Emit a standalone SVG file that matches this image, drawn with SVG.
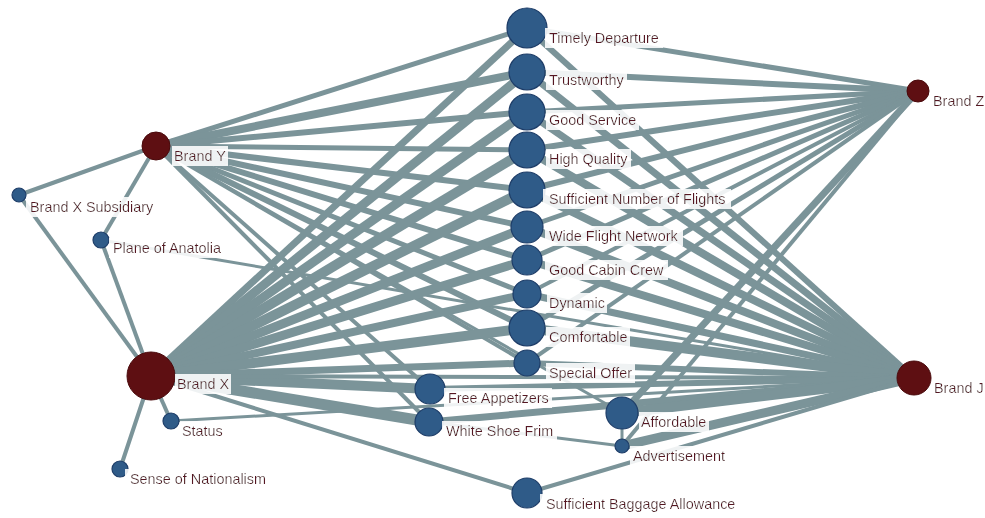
<svg xmlns="http://www.w3.org/2000/svg" width="985" height="518" viewBox="0 0 985 518">
  <style>
    .e { stroke: #7b9499; stroke-linecap: butt; fill: none; }
    .attr { fill: #2f5b88; stroke: #1e3d68; stroke-width: 1.2; }
    .brand { fill: #5e0f12; stroke: #4a0a0c; stroke-width: 1; }
    .lbl { font-family: "Liberation Sans", Arial, sans-serif; font-size: 14.4px; fill: #561820; filter: url(#lblbg); }
  </style>
  <defs>
    <!-- soft white box behind each label -->
    <filter id="lblbg" x="-0.03" y="-0.1" width="1.06" height="1.2">
      <feFlood flood-color="#ffffff" flood-opacity="0.88" result="bg"/>
      <feMerge>
        <feMergeNode in="bg"/>
        <feMergeNode in="SourceGraphic"/>
      </feMerge>
    </filter>
  </defs>
  <rect width="985" height="518" fill="#ffffff"/>

  <g id="connectors">
    <!-- small satellites -->
    <line class="e" x1="156" y1="146" x2="19" y2="195" stroke-width="4"/>
    <line class="e" x1="156" y1="146" x2="101" y2="240" stroke-width="4"/>
    <line class="e" x1="19" y1="195" x2="151" y2="376" stroke-width="4"/>
    <line class="e" x1="101" y1="240" x2="151" y2="376" stroke-width="4"/>
    <line class="e" x1="151" y1="376" x2="171" y2="421" stroke-width="4"/>
    <line class="e" x1="151" y1="376" x2="120" y2="469" stroke-width="4"/>
    <line class="e" x1="101" y1="240" x2="914" y2="378" stroke-width="3"/>
    <line class="e" x1="171" y1="421" x2="914" y2="378" stroke-width="3"/>

    <!-- Brand Y -->
    <line class="e" x1="156" y1="146" x2="527" y2="28" stroke-width="5"/>
    <line class="e" x1="156" y1="146" x2="527" y2="72" stroke-width="8"/>
    <line class="e" x1="156" y1="146" x2="527" y2="112" stroke-width="6"/>
    <line class="e" x1="156" y1="146" x2="527" y2="150" stroke-width="5"/>
    <line class="e" x1="156" y1="146" x2="527" y2="190" stroke-width="6"/>
    <line class="e" x1="156" y1="146" x2="527" y2="227" stroke-width="6"/>
    <line class="e" x1="156" y1="146" x2="527" y2="260" stroke-width="6"/>
    <line class="e" x1="156" y1="146" x2="527" y2="294" stroke-width="5"/>
    <line class="e" x1="156" y1="146" x2="527" y2="328" stroke-width="6"/>
    <line class="e" x1="156" y1="146" x2="527" y2="363" stroke-width="4"/>
    <line class="e" x1="156" y1="146" x2="430" y2="389" stroke-width="4"/>
    <line class="e" x1="156" y1="146" x2="429" y2="422" stroke-width="4"/>
    <line class="e" x1="156" y1="146" x2="622" y2="413" stroke-width="3"/>

    <!-- Brand X -->
    <line class="e" x1="151" y1="376" x2="527" y2="28" stroke-width="7"/>
    <line class="e" x1="151" y1="376" x2="527" y2="72" stroke-width="9"/>
    <line class="e" x1="151" y1="376" x2="527" y2="112" stroke-width="9"/>
    <line class="e" x1="151" y1="376" x2="527" y2="150" stroke-width="10"/>
    <line class="e" x1="151" y1="376" x2="527" y2="190" stroke-width="10"/>
    <line class="e" x1="151" y1="376" x2="527" y2="227" stroke-width="9"/>
    <line class="e" x1="151" y1="376" x2="527" y2="260" stroke-width="9"/>
    <line class="e" x1="151" y1="376" x2="527" y2="294" stroke-width="8"/>
    <line class="e" x1="151" y1="376" x2="527" y2="328" stroke-width="10"/>
    <line class="e" x1="151" y1="376" x2="527" y2="363" stroke-width="7"/>
    <line class="e" x1="151" y1="376" x2="430" y2="389" stroke-width="10"/>
    <line class="e" x1="151" y1="376" x2="429" y2="422" stroke-width="11"/>
    <line class="e" x1="151" y1="376" x2="527" y2="493" stroke-width="4"/>
    <line class="e" x1="151" y1="376" x2="914" y2="378" stroke-width="4"/>

    <!-- Brand Z -->
    <line class="e" x1="918" y1="91" x2="527" y2="28" stroke-width="5"/>
    <line class="e" x1="918" y1="91" x2="527" y2="72" stroke-width="6"/>
    <line class="e" x1="918" y1="91" x2="527" y2="112" stroke-width="5"/>
    <line class="e" x1="918" y1="91" x2="527" y2="150" stroke-width="6"/>
    <line class="e" x1="918" y1="91" x2="527" y2="190" stroke-width="6"/>
    <line class="e" x1="918" y1="91" x2="527" y2="227" stroke-width="5"/>
    <line class="e" x1="918" y1="91" x2="527" y2="260" stroke-width="5"/>
    <line class="e" x1="918" y1="91" x2="527" y2="294" stroke-width="4"/>
    <line class="e" x1="918" y1="91" x2="527" y2="328" stroke-width="5"/>
    <line class="e" x1="918" y1="91" x2="527" y2="363" stroke-width="4"/>
    <line class="e" x1="918" y1="91" x2="622" y2="413" stroke-width="7"/>
    <line class="e" x1="918" y1="91" x2="622" y2="446" stroke-width="4"/>

    <!-- Brand J -->
    <line class="e" x1="914" y1="378" x2="527" y2="28" stroke-width="6"/>
    <line class="e" x1="914" y1="378" x2="527" y2="72" stroke-width="7"/>
    <line class="e" x1="914" y1="378" x2="527" y2="112" stroke-width="7"/>
    <line class="e" x1="914" y1="378" x2="527" y2="150" stroke-width="8"/>
    <line class="e" x1="914" y1="378" x2="527" y2="190" stroke-width="8"/>
    <line class="e" x1="914" y1="378" x2="527" y2="227" stroke-width="8"/>
    <line class="e" x1="914" y1="378" x2="527" y2="260" stroke-width="8"/>
    <line class="e" x1="914" y1="378" x2="527" y2="294" stroke-width="7"/>
    <line class="e" x1="914" y1="378" x2="527" y2="328" stroke-width="10"/>
    <line class="e" x1="914" y1="378" x2="527" y2="363" stroke-width="6"/>
    <line class="e" x1="914" y1="378" x2="430" y2="389" stroke-width="6"/>
    <line class="e" x1="914" y1="378" x2="429" y2="422" stroke-width="7"/>
    <line class="e" x1="914" y1="378" x2="622" y2="413" stroke-width="10"/>
    <line class="e" x1="914" y1="378" x2="622" y2="446" stroke-width="9"/>
    <line class="e" x1="914" y1="378" x2="527" y2="493" stroke-width="4"/>

    <!-- minor links -->
    <line class="e" x1="429" y1="422" x2="622" y2="446" stroke-width="3"/>
    <line class="e" x1="622" y1="413" x2="622" y2="446" stroke-width="3"/>
  </g>

  <g id="node-timely-departure"><circle class="attr" cx="527" cy="28" r="20"/><text class="lbl" x="549" y="43">Timely Departure</text></g>
  <g id="node-trustworthy"><circle class="attr" cx="527" cy="72" r="18"/><text class="lbl" x="549" y="85">Trustworthy</text></g>
  <g id="node-good-service"><circle class="attr" cx="527" cy="112" r="18"/><text class="lbl" x="549" y="125">Good Service</text></g>
  <g id="node-high-quality"><circle class="attr" cx="527" cy="150" r="18"/><text class="lbl" x="549" y="164">High Quality</text></g>
  <g id="node-sufficient-flights"><circle class="attr" cx="527" cy="190" r="18"/><text class="lbl" x="549" y="204">Sufficient Number of Flights</text></g>
  <g id="node-wide-network"><circle class="attr" cx="527" cy="227" r="16"/><text class="lbl" x="549" y="241">Wide Flight Network</text></g>
  <g id="node-cabin-crew"><circle class="attr" cx="527" cy="260" r="15"/><text class="lbl" x="549" y="275">Good Cabin Crew</text></g>
  <g id="node-dynamic"><circle class="attr" cx="527" cy="294" r="14"/><text class="lbl" x="549" y="308">Dynamic</text></g>
  <g id="node-comfortable"><circle class="attr" cx="527" cy="328" r="18"/><text class="lbl" x="549" y="342">Comfortable</text></g>
  <g id="node-special-offer"><circle class="attr" cx="527" cy="363" r="13"/><text class="lbl" x="549" y="378">Special Offer</text></g>
  <g id="node-free-appetizers"><circle class="attr" cx="430" cy="389" r="15"/><text class="lbl" x="448" y="403">Free Appetizers</text></g>
  <g id="node-white-shoe"><circle class="attr" cx="429" cy="422" r="14"/><text class="lbl" x="446" y="436">White Shoe Frim</text></g>
  <g id="node-affordable"><circle class="attr" cx="622" cy="413" r="16"/><text class="lbl" x="641" y="427">Affordable</text></g>
  <g id="node-advertisement"><circle class="attr" cx="622" cy="446" r="7"/><text class="lbl" x="633" y="461">Advertisement</text></g>
  <g id="node-baggage"><circle class="attr" cx="527" cy="493" r="15"/><text class="lbl" x="546" y="509">Sufficient Baggage Allowance</text></g>

  <g id="node-brand-x-subsidiary"><circle class="attr" cx="19" cy="195" r="7"/><text class="lbl" x="30" y="212">Brand X Subsidiary</text></g>
  <g id="node-plane-anatolia"><circle class="attr" cx="101" cy="240" r="8"/><text class="lbl" x="113" y="253">Plane of Anatolia</text></g>
  <g id="node-status"><circle class="attr" cx="171" cy="421" r="8"/><text class="lbl" x="182" y="436">Status</text></g>
  <g id="node-nationalism"><circle class="attr" cx="120" cy="469" r="8"/><text class="lbl" x="130" y="484">Sense of Nationalism</text></g>

  <g id="node-brand-y"><circle class="brand" cx="156" cy="146" r="14"/><text class="lbl" x="174" y="161">Brand Y</text></g>
  <g id="node-brand-x"><circle class="brand" cx="151" cy="376" r="24"/><text class="lbl" x="177" y="389">Brand X</text></g>
  <g id="node-brand-z"><circle class="brand" cx="918" cy="91" r="11"/><text class="lbl" x="933" y="106">Brand Z</text></g>
  <g id="node-brand-j"><circle class="brand" cx="914" cy="378" r="17"/><text class="lbl" x="934" y="393">Brand J</text></g>
</svg>
